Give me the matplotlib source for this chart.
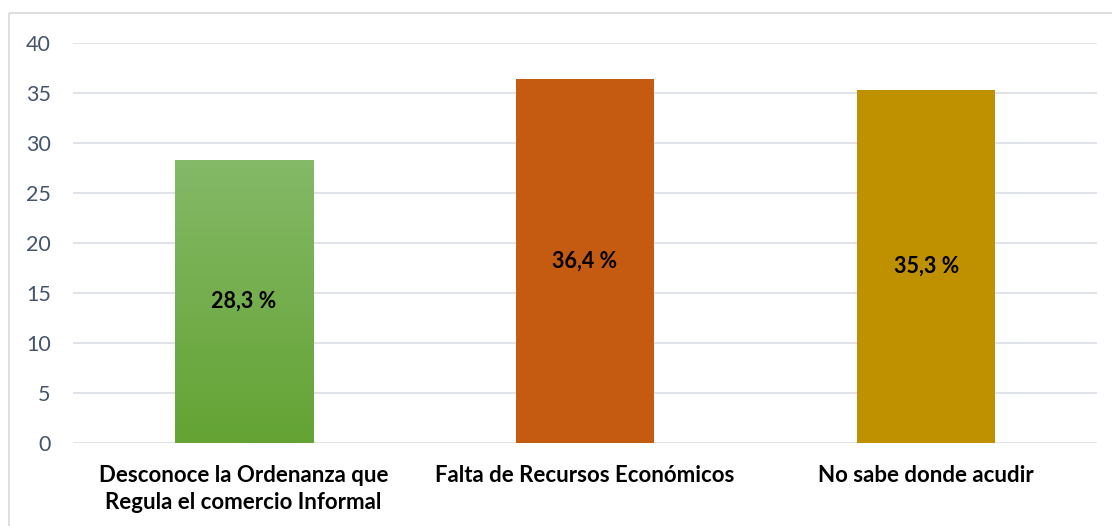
import numpy as np
import matplotlib

matplotlib.use("Agg")
import matplotlib.pyplot as plt
from matplotlib.colors import LinearSegmentedColormap
from matplotlib.patches import Rectangle

plt.rcParams["font.family"] = ["Lato", "DejaVu Sans"]

categories = [
    "Desconoce la Ordenanza que\nRegula el comercio Informal",
    "Falta de Recursos Económicos",
    "No sabe donde acudir",
]
values = [28.3, 36.4, 35.3]
labels = ["28,3 %", "36,4 %", "35,3 %"]
colors = ["#72AF4A", "#C55A11", "#BF9000"]
yticks = [0, 5, 10, 15, 20, 25, 30, 35, 40]

W, H = 1112, 526
fig = plt.figure(figsize=(W / 100, H / 100), dpi=100)

# chart area border (clipped at right/bottom of the image)
fig.patches.append(
    Rectangle((9 / W, 1 - 13 / H), 1.2, -1.2, transform=fig.transFigure,
              fill=False, edgecolor="#D9D9D9", lw=1.2, zorder=0)
)

ax = fig.add_axes([73 / W, 1 - 443 / H, (1097 - 73) / W, (443 - 43) / H])
x = np.arange(len(categories))
bars = ax.bar(x, values, width=0.405, color=colors, zorder=2)

# gradient fill for the first bar
grad = LinearSegmentedColormap.from_list("g", ["#64A334", "#84B967"])
b0 = bars[0]
b0.set_facecolor("none")
img = ax.imshow(np.linspace(0, 1, 256).reshape(-1, 1), cmap=grad, aspect="auto",
                origin="lower",
                extent=[b0.get_x(), b0.get_x() + b0.get_width(), 0, b0.get_height()],
                zorder=2)
img.set_clip_path(b0)

for xi, v, lab in zip(x, values, labels):
    ax.text(xi, v / 2, lab, ha="center", va="center", fontsize=15.5,
            fontweight="bold", color="black", zorder=3)

ax.set_xlim(-0.5, 2.5)
ax.set_ylim(0, 40)
ax.set_yticks(yticks)
ax.set_xticks(x)
ax.set_xticklabels(categories, fontsize=16, fontweight="bold", color="black",
                   linespacing=1.32)
ax.tick_params(axis="y", labelsize=15.5, colors="#44546A", length=0, pad=16)
ax.tick_params(axis="x", length=0, pad=16)
ax.grid(axis="y", color="#DDE1E7", lw=1.3, zorder=0)
ax.set_axisbelow(True)
for s in ax.spines.values():
    s.set_visible(False)

fig.savefig("out.png", dpi=100)
